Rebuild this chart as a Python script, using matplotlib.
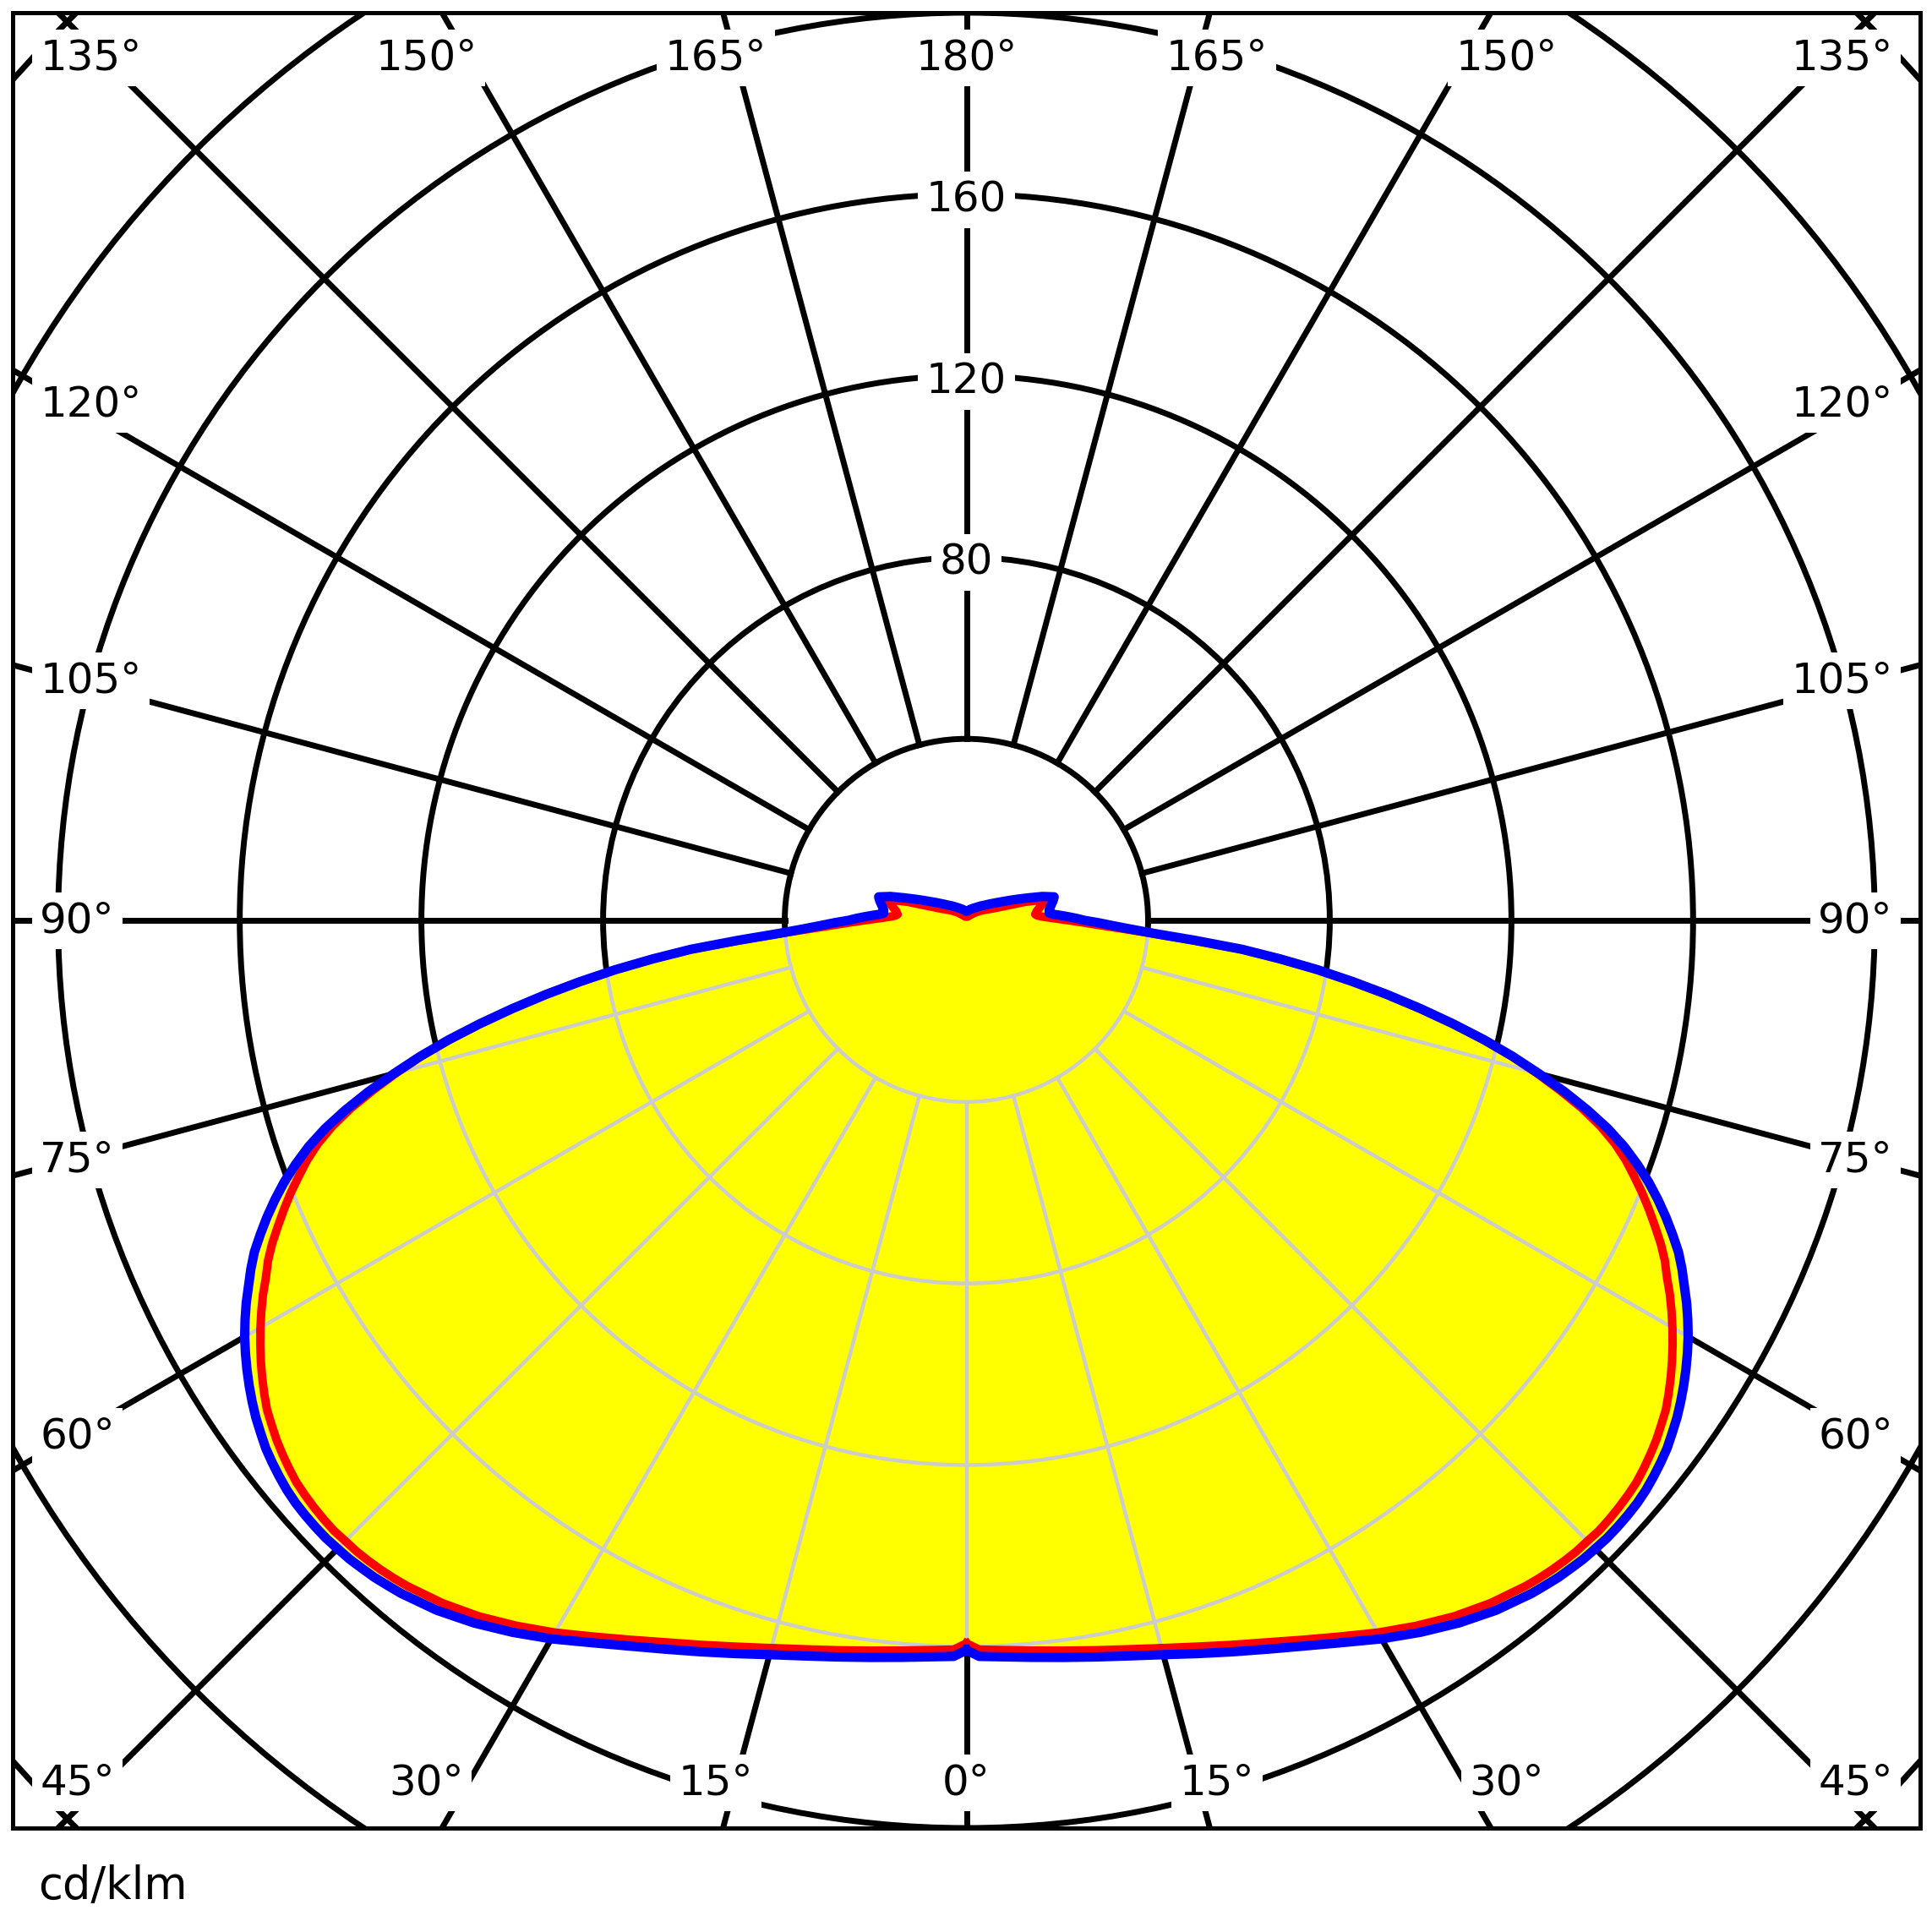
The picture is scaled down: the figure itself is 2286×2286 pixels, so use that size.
import numpy as np
import matplotlib.pyplot as plt
from matplotlib.patches import Polygon, Circle

# polar light distribution, gamma angle (deg) from nadir
gamma = ([0, 1, 2.5, 5, 7.5, 10, 12.5, 15, 17.5, 20, 22.5, 25, 27.5, 30, 32.5, 35, 37.5]
         + list(range(40, 96))
         + [97.5, 100, 102.5, 105, 107.5, 110, 112.5, 115, 117.5, 120, 125, 130, 135,
            140, 150, 160, 170, 180])

# C0-C180 plane (red)
red_cd = [159.3, 160.7, 160.9, 161.5, 162.3, 163.3, 164.5, 166.0, 167.8, 169.9,
          172.2, 174.9, 177.9, 181.2, 184.3, 187.2, 189.6,
          191.5, 192.1, 192.6, 193.0, 193.3, 193.4, 193.6, 193.5, 193.3, 193.0,
          192.6, 191.9, 191.1, 190.2, 189.1, 188.0, 186.5, 184.9, 183.2, 181.4,
          179.5, 177.5, 175.4, 173.1, 171.1, 168.7, 166.0, 163.3, 160.5, 157.5,
          154.5, 151.0, 146.8, 141.8, 136.0, 130.0, 123.7, 116.8, 109.4, 101.8,
          94.0, 86.0, 78.0, 69.4, 60.8, 49.7, 40.8, 34.0, 29.0, 25.5,
          22.5, 20.0, 18.0, 16.5, 15.6, 15.2,
          15.6, 16.4, 17.2, 17.6, 13.5, 9.5, 7.3, 6.0, 5.2, 4.6,
          3.6, 2.8, 2.2, 1.7, 1.2, 0.9, 0.8, 0.8]

# C90-C270 plane (blue)
blue_cd = [160.8, 162.2, 162.4, 163.0, 163.8, 164.8, 166.0, 167.5, 169.4, 171.5,
           173.8, 176.4, 179.4, 182.8, 186.0, 189.0, 191.6,
           193.6, 194.2, 194.8, 195.2, 195.6, 195.8, 196.0, 196.0, 195.9, 195.7,
           195.3, 194.7, 194.0, 193.2, 192.1, 191.0, 189.7, 188.3, 186.8, 185.2,
           183.5, 181.6, 179.6, 177.4, 175.3, 173.0, 170.2, 167.3, 164.2, 160.9,
           157.2, 153.2, 148.5, 143.0, 137.0, 130.5, 124.0, 117.0, 109.5, 101.8,
           94.0, 86.0, 78.0, 69.5, 61.0, 50.5, 41.5, 36.0, 32.0, 29.0,
           26.0, 24.3, 22.5, 20.8, 19.2, 18.3,
           18.4, 18.9, 19.5, 20.0, 17.5, 14.5, 12.2, 10.4, 9.0, 7.9,
           6.3, 5.2, 4.5, 3.9, 3.1, 2.6, 2.2, 2.0]

rings = [40, 80, 120, 160, 200, 240, 280]
ring_labels = [80, 120, 160]
spokes = np.arange(0, 360, 15)
angle_labels = [0, 15, 30, 45, 60, 75, 90, 105, 120, 135, 150, 165, 180]
unit = 'cd/klm'


def outline(vals):
    g = np.radians(gamma)
    r = np.array(vals)
    x = -r * np.sin(g)
    y = -r * np.cos(g)
    xs = np.concatenate([x, -x[::-1]])
    ys = np.concatenate([y, y[::-1]])
    return xs, ys


def label_pos(a, side):
    ha = 'left' if side < 0 else 'right'
    if a <= 30:
        return side * 206 * np.tan(np.radians(a)), -190, 'center'
    if a >= 150:
        return side * 206 * np.tan(np.radians(180 - a)), 190, 'center'
    if a == 45:
        return side * 204, -190, ha
    if a == 135:
        return side * 204, 190, ha
    return side * 204, -197 * np.tan(np.radians(90 - a)), ha


fig = plt.figure(figsize=(22.86, 22.86), dpi=100)
ax = fig.add_axes([15 / 2286, 123 / 2286, 2257 / 2286, 2148 / 2286])
ax.set_xlim(-210, 210)
ax.set_ylim(-200, 200)
ax.set_xticks([])
ax.set_yticks([])
for sp in ax.spines.values():
    sp.set_linewidth(3.6)

black = dict(color='black', lw=5, zorder=1)
gray = dict(color='#cccccc', lw=3.2, zorder=3)
r_in, r_out = rings[0], 320

for r in rings:
    ax.add_patch(Circle((0, 0), r, fill=False, ec='black', lw=5, zorder=1))
for s in spokes:
    t = np.radians(s)
    ax.plot([r_in * np.sin(t), r_out * np.sin(t)], [-r_in * np.cos(t), -r_out * np.cos(t)], **black)

bx, by = outline(blue_cd)
rx, ry = outline(red_cd)
fill = Polygon(np.column_stack([bx, by]), closed=True, fc='#ffff00', ec='none', zorder=2)
ax.add_patch(fill)
ax.add_patch(Polygon(np.column_stack([rx, ry]), closed=True, fc='#ffff00', ec='none', zorder=2))

# light grid inside the lit area
for r in rings:
    c = Circle((0, 0), r, fill=False, ec='#cccccc', lw=3.2, zorder=3)
    ax.add_patch(c)
    c.set_clip_path(fill)
for s in spokes:
    t = np.radians(s)
    ln, = ax.plot([r_in * np.sin(t), r_out * np.sin(t)], [-r_in * np.cos(t), -r_out * np.cos(t)], **gray)
    ln.set_clip_path(fill)

ax.plot(rx, ry, color='#ff0000', lw=7.2, zorder=4, solid_joinstyle='round')
ax.plot(bx, by, color='#0000ff', lw=8, zorder=5, solid_joinstyle='round')

box = dict(facecolor='white', edgecolor='none', pad=7)
for r in ring_labels:
    ax.text(0, r - 1.2, str(r), ha='center', va='center', fontsize=36, bbox=box, zorder=6)

for a in angle_labels:
    sides = [-1] if a in (0, 180) else [-1, 1]
    for s in sides:
        x, y, ha = label_pos(a, s)
        ax.text(x, y, f'{a}°', ha=ha, va='center', fontsize=36, bbox=box, zorder=6)

fig.text(45 / 2286, 54 / 2286, unit, ha='left', va='center', fontsize=38)

fig.savefig('out.png', dpi=100, facecolor='white')
